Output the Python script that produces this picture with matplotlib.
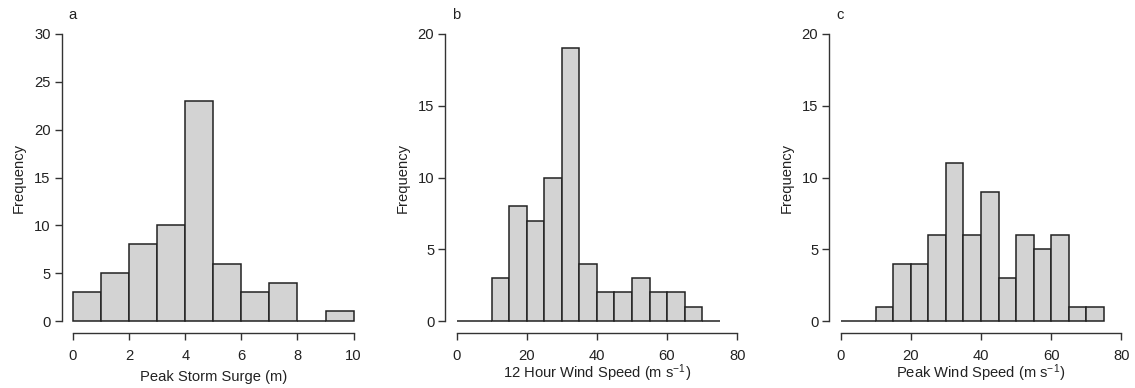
import numpy as np
import matplotlib
matplotlib.use("Agg")
import matplotlib.pyplot as plt

plt.rcParams['font.family'] = ['Liberation Sans', 'DejaVu Sans']
plt.rcParams['mathtext.default'] = 'regular'

# panel a: peak storm surge (m), bins of 1 m
surge_edges = np.arange(0, 11, 1)
surge_counts = [3, 5, 8, 10, 23, 6, 3, 4, 0, 1]

# panel b: 12 hour wind speed, bins of 5 m/s
wind12_edges = np.arange(0, 80, 5)
wind12_counts = [0, 0, 3, 8, 7, 10, 19, 4, 2, 2, 3, 2, 2, 1, 0]

# panel c: peak wind speed, bins of 5 m/s
peak_edges = np.arange(0, 80, 5)
peak_counts = [0, 0, 1, 4, 4, 6, 11, 6, 9, 3, 6, 5, 6, 1, 1]

panels = [
    ("a", surge_edges, surge_counts, "Peak Storm Surge (m)", (0, 10), [0, 2, 4, 6, 8, 10], (0, 30), [0, 5, 10, 15, 20, 25, 30]),
    ("b", wind12_edges, wind12_counts, "12 Hour Wind Speed (m s$^{-1}$)", (0, 80), [0, 20, 40, 60, 80], (0, 20), [0, 5, 10, 15, 20]),
    ("c", peak_edges, peak_counts, "Peak Wind Speed (m s$^{-1}$)", (0, 80), [0, 20, 40, 60, 80], (0, 20), [0, 5, 10, 15, 20]),
]

lefts = [0.0544, 0.3924, 0.7308]
label_y = [-0.1565, -0.1468, -0.1468]
fig = plt.figure(figsize=(11.35, 3.88), dpi=100)
axcol = "#333333"
fs = 10.6

for left, ly, (lab, edges, counts, xlab, xr, xt, yr, yt) in zip(lefts, label_y, panels):
    ax = fig.add_axes([left, 0.143, 0.267, 0.799])
    ax.bar(edges[:-1], counts, width=np.diff(edges), align="edge",
           color="#d3d3d3", edgecolor="#222222", linewidth=1.1)
    dx = (xr[1] - xr[0]) * 0.04
    dy = (yr[1] - yr[0]) * 0.04
    ax.set_xlim(xr[0] - dx, xr[1] + dx)
    ax.set_ylim(yr[0] - dy, yr[1] + dy)
    ax.set_xticks(xt)
    ax.set_yticks(yt)
    for s in ["top", "right"]:
        ax.spines[s].set_visible(False)
    ax.spines["bottom"].set_bounds(xr[0], xr[1])
    ax.spines["left"].set_bounds(yr[0], yr[1])
    for s in ["bottom", "left"]:
        ax.spines[s].set_color(axcol)
        ax.spines[s].set_linewidth(1.0)
    ax.tick_params(axis="both", colors=axcol, labelcolor="#222222",
                   labelsize=fs, length=5, width=1.0)
    ax.tick_params(axis="x", pad=7)
    ax.tick_params(axis="y", pad=3)
    # x label placed by baseline so the superscript does not push it down
    ax.text(0.5, ly, xlab, transform=ax.transAxes, fontsize=fs,
            color="#222222", ha="center", va="baseline")
    ax.set_ylabel("Frequency", fontsize=fs, color="#222222", labelpad=6)
    fig.text(left + 0.006, 0.961, lab, fontsize=fs, color="#222222",
             va="center", ha="left")

fig.savefig("out.png", dpi=100)
